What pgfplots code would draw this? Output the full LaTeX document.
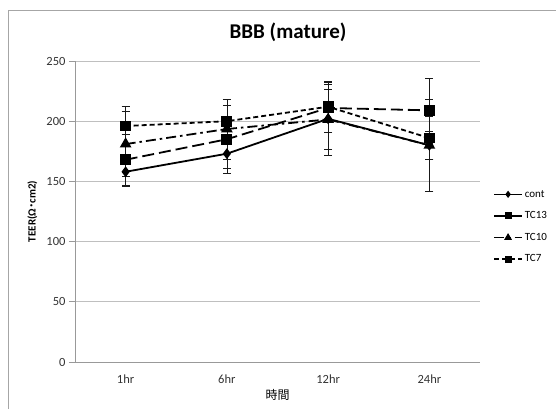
\documentclass[border=0pt]{standalone}
\usepackage{pgfplots}
\pgfplotsset{compat=1.18}
\usepackage{fontspec}
\setmainfont{Carlito}
\newfontfamily\cjk{Noto Sans CJK JP}
\begin{document}
\begin{tikzpicture}[x=1pt,y=1pt]
\path[use as bounding box] (0,0) rectangle (556,409);
\draw[gray!70, line width=0.8pt] (8,0) -- (8,399) -- (556,399);
\begin{axis}[
  at={(75pt,47pt)}, anchor=south west,
  scale only axis, width=405pt, height=301pt,
  xmin=-0.5, xmax=3.5, ymin=0, ymax=250,
  axis lines*=left,
  axis line style={gray!80, line width=0.8pt},
  xtick={0,1,2,3}, xticklabels={1hr,6hr,12hr,24hr},
  x tick style={draw=none},
  extra x ticks={-0.5,0.5,1.5,2.5,3.5},
  extra x tick labels={},
  extra x tick style={major tick length=5pt, tick align=outside, tick style={draw=gray!80, line width=0.8pt}},
  ytick={0,50,100,150,200,250},
  y tick style={draw=gray!80, line width=0.8pt},
  major tick length=6pt, tick align=outside,
  ymajorgrids, grid style={gray!50, line width=0.8pt},
  tick label style={font=\fontsize{12.5}{14}\selectfont, text=black!80},
  /pgf/number format/assume math mode=true,
  xticklabel style={yshift=-3pt},
  title={\bfseries BBB (mature)},
  title style={at={(axis description cs:0.526,1.076)}, anchor=center, font=\fontsize{21}{24}\selectfont},
  ylabel={\bfseries TEER(Ω{\cjk ･}cm2)},
  ylabel style={at={(axis description cs:-0.105,0.5)}, anchor=center, rotate=0, font=\fontsize{11}{12}\selectfont},
  xlabel={\cjk 時間},
  xlabel style={at={(axis description cs:0.5,-0.11)}, anchor=center, font=\fontsize{12}{14}\selectfont},
  legend style={at={(1.025,0.585)}, anchor=north west, draw=none, fill=none,
     font=\fontsize{11}{12}\selectfont, row sep=9pt, cells={anchor=west}},
  legend image code/.code={\draw[mark repeat=2,mark phase=2,#1, line width=1.5pt, every mark/.append style={scale=0.6}] plot coordinates {(0pt,0pt) (14pt,0pt) (28pt,0pt)};},
  every axis plot/.append style={line width=1.8pt},
  error bars/error bar style={line width=0.6pt, gray!20!black, solid},
  error bars/error mark options={rotate=90, mark size=4pt, line width=0.6pt, solid},
]
\addplot+[black, solid, mark=diamond*, mark size=4pt, mark options={solid, fill=black},
  error bars/.cd, y dir=both, y explicit]
  coordinates {(0,158) +- (0,12) (1,173) +- (0,12) (2,202) +- (0,30) (3,180) +- (0,38)};
\addlegendentry{cont}
\addplot+[black, dash pattern=on 12pt off 5pt, mark=square*, mark size=4.5pt, mark options={solid, fill=black},
  error bars/.cd, y dir=both, y explicit]
  coordinates {(0,168) +- (0,21) (1,185) +- (0,28) (2,211) +- (0,20) (3,209) +- (0,27)};
\addlegendentry{TC13}
\addplot+[black, dash pattern=on 10pt off 4pt on 2.5pt off 4pt, mark=triangle*, mark size=5pt, mark options={solid, fill=black},
  error bars/.cd, y dir=both, y explicit]
  coordinates {(0,181) +- (0,27) (1,193.5) +- (0,25) (2,201.5) +- (0,25) (3,180) +- (0,12)};
\addlegendentry{TC10}
\addplot+[black, dash pattern=on 5pt off 3pt, mark=square*, mark size=4.5pt, mark options={solid, fill=black},
  error bars/.cd, y dir=both, y explicit]
  coordinates {(0,196) +- (0,16) (1,200) +- (0,18) (2,212) +- (0,21) (3,186) +- (0,18)};
\addlegendentry{TC7}
\end{axis}
\end{tikzpicture}
\end{document}
